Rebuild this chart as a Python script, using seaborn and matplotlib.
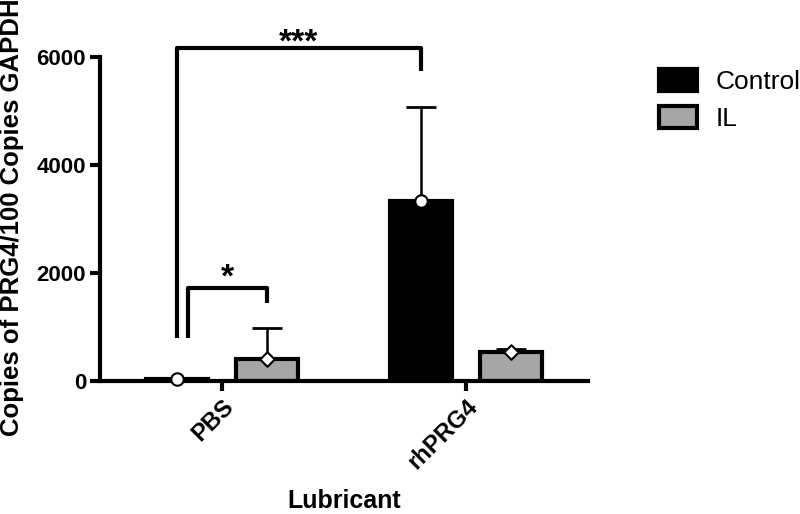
import pandas as pd
import numpy as np
import matplotlib
matplotlib.use("Agg")
import matplotlib.pyplot as plt
from matplotlib.patches import Patch
import seaborn as sns

lubricants = ["PBS", "rhPRG4"]
groups = ["Control", "IL"]
control_mean = [30, 3340]
control_err = [20, 1740]
il_mean = [400, 535]
il_err = [580, 55]

df = pd.DataFrame({
    "Lubricant": lubricants * 2,
    "Group": [groups[0]] * 2 + [groups[1]] * 2,
    "value": control_mean + il_mean,
})

sns.set_style("ticks")
plt.rcParams["font.family"] = ["Liberation Sans", "DejaVu Sans"]
for k in ["text.color", "axes.labelcolor", "xtick.color", "ytick.color"]:
    plt.rcParams[k] = "black"

fig, ax = plt.subplots(figsize=(8, 5.14), dpi=100)
fig.subplots_adjust(left=0.125, right=0.735, bottom=0.259, top=0.889)

palette = {"Control": "black", "IL": "#a6a6a6"}
sns.barplot(data=df, x="Lubricant", y="value", hue="Group", order=lubricants,
            hue_order=groups, palette=palette, errorbar=None, width=0.74,
            gap=0.32, edgecolor="black", linewidth=3, saturation=1,
            legend=False, ax=ax, zorder=2)

# bar centres from seaborn's containers
centres = {}
for g, cont in zip(groups, ax.containers):
    centres[g] = [b.get_x() + b.get_width() / 2 for b in cont]

for g, means, errs, mk, ms in [("Control", control_mean, control_err, "o", 80),
                               ("IL", il_mean, il_err, "D", 55)]:
    xs = centres[g]
    ax.errorbar(xs, means, yerr=[np.zeros(len(errs)), errs], fmt="none",
                ecolor="black", elinewidth=1.8, capsize=11, capthick=2,
                zorder=3)
    ax.scatter(xs, means, marker=mk, s=ms, facecolor="white",
               edgecolor="black", linewidth=1.5, zorder=4, clip_on=False)

ax.set_ylim(0, 6000)
ax.set_xlim(-0.5, 1.5)
ax.set_yticks([0, 2000, 4000, 6000])
ax.tick_params(axis="both", width=3, length=7, direction="out", pad=3)
for lab in ax.get_yticklabels():
    lab.set_fontsize(16)
    lab.set_fontweight("bold")
ax.set_xticks([0, 1])
ax.set_xticklabels(lubricants, rotation=45, ha="right", rotation_mode="anchor",
                   fontsize=17, fontweight="bold")
sns.despine(ax=ax)
for s in ["left", "bottom"]:
    ax.spines[s].set_linewidth(3)
    ax.spines[s].set_color("black")

ax.set_ylabel("Copies of PRG4/100 Copies GAPDH", fontsize=18.5, fontweight="bold")
ax.yaxis.set_label_coords(-0.155, 0.505)
ax.set_xlabel("Lubricant", fontsize=18, fontweight="bold")
ax.xaxis.set_label_coords(0.5, -0.335)

# significance brackets
c0, c1 = centres["Control"]
i0 = centres["IL"][0]
ax.plot([c0, c0, c1, c1], [800, 6170, 6170, 5740], color="black", lw=3,
        clip_on=False, solid_capstyle="butt")
ax.text((c0 + c1) / 2, 5980, "***", ha="center", va="bottom", fontsize=24,
        fontweight="bold")
ax.plot([c0 + 0.045, c0 + 0.045, i0, i0], [800, 1720, 1720, 1440], color="black",
        lw=3, clip_on=False, solid_capstyle="butt")
ax.text((c0 + 0.045 + i0) / 2, 1620, "*", ha="center", va="bottom", fontsize=24,
        fontweight="bold")

handles = [Patch(facecolor=palette[g], edgecolor="black", linewidth=3) for g in groups]
fig.legend(handles, groups, loc="upper left", bbox_to_anchor=(0.824, 0.866),
           frameon=False, fontsize=19, handlelength=1.45, handleheight=0.9,
           handletextpad=0.7, labelspacing=0.45, borderpad=0, borderaxespad=0)

fig.savefig("out.png", dpi=100)
